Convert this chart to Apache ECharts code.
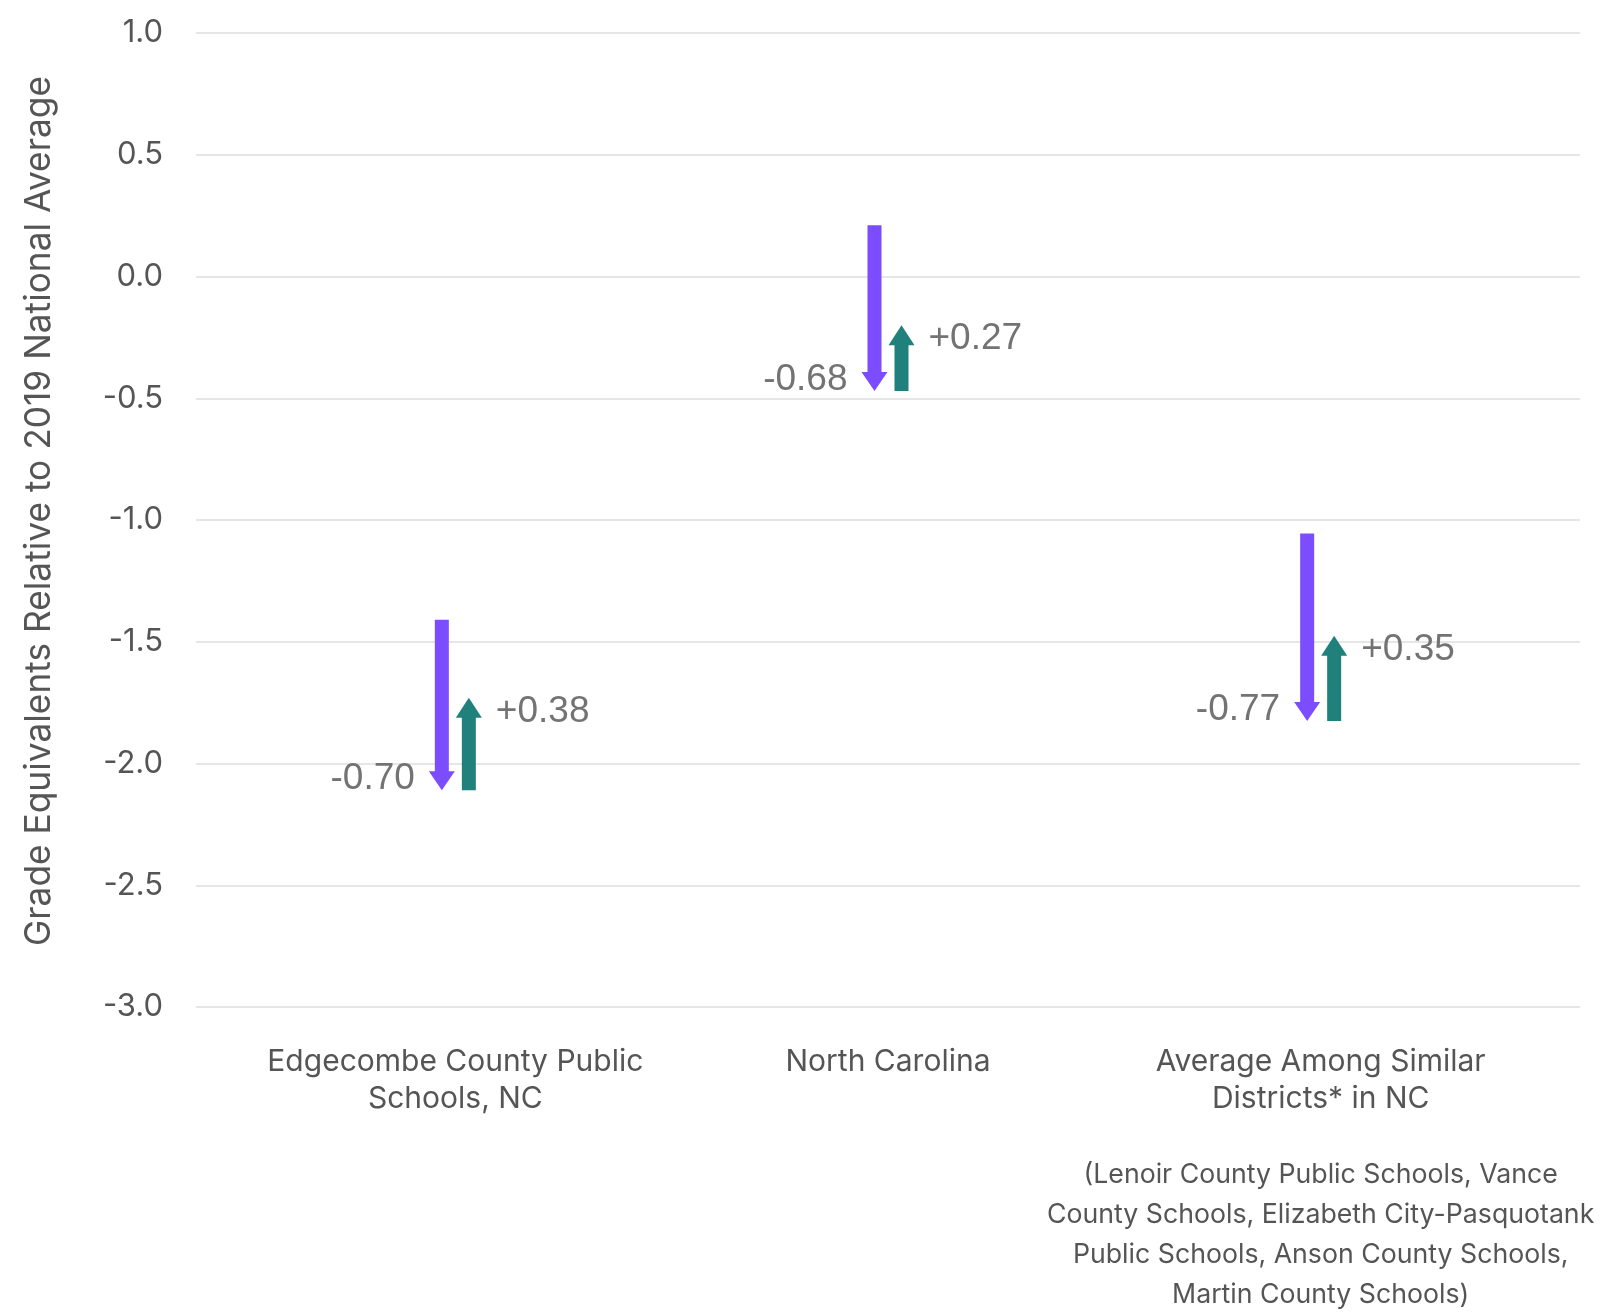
<!DOCTYPE html>
<html>
<head>
<meta charset="utf-8">
<script src="https://cdn.jsdelivr.net/npm/echarts@6/dist/echarts.min.js"></script>
<style>html,body{margin:0;padding:0;background:#fff;}#c{width:1600px;height:1312px;}</style>
</head>
<body>
<div id="c"></div>
<script>
const categories = ['Edgecombe County Public\nSchools, NC', 'North Carolina', 'Average Among Similar\nDistricts* in NC'];
const categoryNote = ['', '', '(Lenoir County Public Schools, Vance\nCounty Schools, Elizabeth City-Pasquotank\nPublic Schools, Anson County Schools,\nMartin County Schools)'];
const startValues = [-1.41, 0.21, -1.055];
const declines = [-0.70, -0.68, -0.77];
const recoveries = [0.38, 0.27, 0.35];
const yTicks = { min: -3, max: 1, interval: 0.5 };
const yAxisTitle = 'Grade Equivalents Relative to 2019 National Average';

const PURPLE = '#7C4DFF';
const TEAL = '#1F807C';
const LABEL_COLOR = '#737373';

const arrowData = categories.map((c, i) => [i, startValues[i], declines[i], recoveries[i]]);

const chart = echarts.init(document.getElementById('c'));

function renderItem(params, api) {
  const idx = api.value(0);
  const s = api.value(1), d = api.value(2), r = api.value(3);
  const e1 = s + d, e2 = e1 + r;
  const pTop = api.coord([idx, s]);
  const pEnd = api.coord([idx, e1]);
  const pRec = api.coord([idx, e2]);
  const cx = pTop[0];
  const off = 13.5, hw = 7, hh = 13, hl = 19;
  const px = cx - off, tx = cx + off;
  const yTop = pTop[1], yTip = pEnd[1], yTip2 = pRec[1];
  const purple = [
    [px - hw, yTop], [px + hw, yTop], [px + hw, yTip - hl], [px + hh, yTip - hl],
    [px, yTip], [px - hh, yTip - hl], [px - hw, yTip - hl]
  ];
  const teal = [
    [tx - hw, yTip], [tx + hw, yTip], [tx + hw, yTip2 + hl + 1], [tx + hh, yTip2 + hl + 1],
    [tx, yTip2], [tx - hh, yTip2 + hl + 1], [tx - hw, yTip2 + hl + 1]
  ];
  return {
    type: 'group',
    children: [
      { type: 'polygon', shape: { points: purple }, style: { fill: PURPLE } },
      { type: 'polygon', shape: { points: teal }, style: { fill: TEAL } },
      { type: 'text', x: px - hh - 14, y: yTip - 11,
        style: { text: d.toFixed(2), fill: LABEL_COLOR, font: '37px "Liberation Sans", Arial, sans-serif', align: 'right', verticalAlign: 'middle' } },
      { type: 'text', x: tx + hh + 14, y: yTip2 + 14,
        style: { text: '+' + r.toFixed(2), fill: LABEL_COLOR, font: '37px "Liberation Sans", Arial, sans-serif', align: 'left', verticalAlign: 'middle' } }
    ]
  };
}

const option = {
  backgroundColor: '#fff',
  animation: false,
  grid: [
    { left: 196, right: 20, top: 33, bottom: 305 },
    { left: 239, right: 63, top: 33, bottom: 305 }
  ],
  xAxis: [
    { type: 'value', gridIndex: 0, min: 0, max: 1, show: false },
    {
      type: 'category', gridIndex: 1, data: categories, boundaryGap: true,
      axisLine: { show: false }, axisTick: { show: false },
      axisLabel: {
        margin: 36, interval: 0,
        formatter: function (v, i) {
          const main = v.split('\n').map(l => '{a|' + l + '}').join('\n');
          const note = categoryNote[i];
          if (!note) return main;
          return main + '\n{g|}\n' + note.split('\n').map(l => '{b|' + l + '}').join('\n');
        },
        rich: {
          a: { fontFamily: 'Inter, "Noto Sans", sans-serif', fontSize: 30, color: '#555555', lineHeight: 37, align: 'center' },
          g: { fontSize: 10, lineHeight: 38 },
          b: { fontFamily: 'Inter, "Noto Sans", sans-serif', fontSize: 26.7, color: '#555555', lineHeight: 40, align: 'center' }
        }
      }
    }
  ],
  yAxis: [
    {
      type: 'value', gridIndex: 0, min: yTicks.min, max: yTicks.max, interval: yTicks.interval,
      name: yAxisTitle, nameLocation: 'middle', nameGap: 139,
      nameTextStyle: { fontFamily: 'Inter, "Noto Sans", sans-serif', fontSize: 35.3, color: '#555555', padding: [0, 0, 0, 18] },
      axisLine: { show: false }, axisTick: { show: false },
      axisLabel: { margin: 33, fontFamily: 'Inter, "Noto Sans", sans-serif', fontSize: 31, color: '#555555',
        formatter: v => v.toFixed(1) },
      splitLine: { lineStyle: { color: '#e6e6e6', width: 2 } }
    },
    {
      type: 'value', gridIndex: 1, min: yTicks.min, max: yTicks.max, interval: yTicks.interval, show: false,
      splitLine: { show: false }
    }
  ],
  series: [
    {
      type: 'custom', xAxisIndex: 1, yAxisIndex: 1,
      renderItem: renderItem,
      encode: { x: 0, y: [1] },
      data: arrowData,
      clip: false
    }
  ]
};
chart.setOption(option);
</script>
</body>
</html>
